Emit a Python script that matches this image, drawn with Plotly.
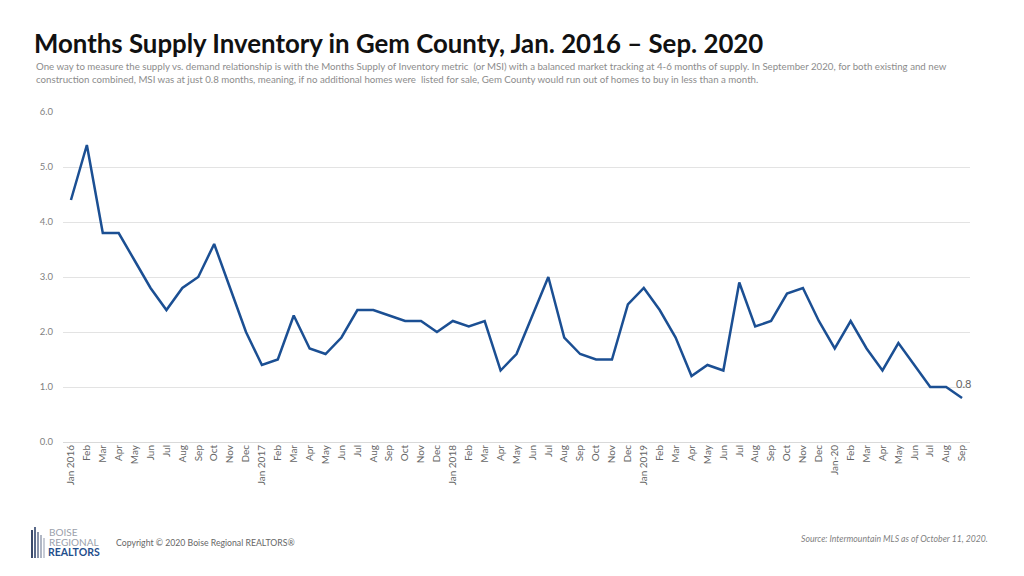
import plotly.graph_objects as go

months = ["Jan 2016", "Feb", "Mar", "Apr", "May", "Jun", "Jul", "Aug", "Sep", "Oct", "Nov", "Dec",
          "Jan 2017", "Feb", "Mar", "Apr", "May", "Jun", "Jul", "Aug", "Sep", "Oct", "Nov", "Dec",
          "Jan 2018", "Feb", "Mar", "Apr", "May", "Jun", "Jul", "Aug", "Sep", "Oct", "Nov", "Dec",
          "Jan 2019", "Feb", "Mar", "Apr", "May", "Jun", "Jul", "Aug", "Sep", "Oct", "Nov", "Dec",
          "Jan-20", "Feb", "Mar", "Apr", "May", "Jun", "Jul", "Aug", "Sep"]
msi = [4.4, 5.4, 3.8, 3.8, 3.3, 2.8, 2.4, 2.8, 3.0, 3.6, 2.8, 2.0,
       1.4, 1.5, 2.3, 1.7, 1.6, 1.9, 2.4, 2.4, 2.3, 2.2, 2.2, 2.0,
       2.2, 2.1, 2.2, 1.3, 1.6, 2.3, 3.0, 1.9, 1.6, 1.5, 1.5, 2.5,
       2.8, 2.4, 1.9, 1.2, 1.4, 1.3, 2.9, 2.1, 2.2, 2.7, 2.8, 2.2,
       1.7, 2.2, 1.7, 1.3, 1.8, 1.4, 1.0, 1.0, 0.8]
y_ticks = [0, 1, 2, 3, 4, 5, 6]

x = list(range(len(months)))

fig = go.Figure()
fig.add_trace(go.Scatter(x=x, y=msi, mode="lines",
                         line=dict(color="#1B4F93", width=2.5), hoverinfo="skip"))

fig.add_annotation(x=x[-1], y=msi[-1], text=f"{msi[-1]:.1f}", showarrow=False,
                   xanchor="center", yanchor="bottom", yshift=6, xshift=1,
                   font=dict(family="Lato", size=11, color="#666666"))

fig.update_layout(
    width=1024, height=576,
    margin=dict(l=63, r=54, t=112, b=134),
    paper_bgcolor="white", plot_bgcolor="white",
    showlegend=False,
    font=dict(family="Lato", color="#7f7f7f"),
    xaxis=dict(range=[-0.5, len(months) - 0.5], tickmode="array", tickvals=x, ticktext=months,
               tickangle=-90, tickfont=dict(size=10, color="#666666"), showgrid=False,
               zeroline=False, showline=False, ticks=""),
    yaxis=dict(range=[0, 6], tickmode="array", tickvals=y_ticks,
               ticktext=[f"{v:.1f}" for v in y_ticks],
               tickfont=dict(size=9.5, color="#7f7f7f"), gridcolor="#e3e3e3", gridwidth=1,
               zeroline=True, zerolinecolor="#d9d9d9", zerolinewidth=1, showline=False,
               ticks="", ticklabelstandoff=9),
)

def px(xp):
    return (xp - 63) / 907
def py(yp):
    return (442 - yp) / 330

fig.add_annotation(xref="paper", yref="paper", x=px(32), y=py(43), xanchor="left",
                   yanchor="middle", showarrow=False,
                   text="<b>Months Supply Inventory in Gem County, Jan. 2016 – Sep. 2020</b>",
                   font=dict(family="Lato", size=25.8, color="#111111"))
fig.add_annotation(xref="paper", yref="paper", x=px(34), y=py(72.5), xanchor="left",
                   yanchor="middle", showarrow=False, align="left",
                   text="One way to measure the supply vs. demand relationship is with the Months Supply of Inventory metric  (or MSI) with a balanced market tracking at 4-6 months of supply. In September 2020, for both existing and new<br>construction combined, MSI was at just 0.8 months, meaning, if no additional homes were  listed for sale, Gem County would run out of homes to buy in less than a month.",
                   font=dict(family="Lato", size=9.7, color="#8c8c8c"))

# footer logo
bars = [(31, 33, 530, "#3a4a6b"), (34, 36, 527, "#5a6a8a"), (37, 39, 532, "#8a94aa"),
        (40, 42, 535, "#b0b6c4"), (43, 45, 538, "#c8ccd6")]
for x0, x1, ytop, col in bars:
    fig.add_shape(type="rect", xref="paper", yref="paper", x0=px(x0), x1=px(x1),
                  y0=py(558), y1=py(ytop), fillcolor=col, line_width=0)

fig.add_annotation(xref="paper", yref="paper", x=px(47), y=py(532), xanchor="left", yanchor="middle",
                   showarrow=False, text="BOISE", font=dict(family="Lato", size=10, color="#9a9fab"))
fig.add_annotation(xref="paper", yref="paper", x=px(47), y=py(542), xanchor="left", yanchor="middle",
                   showarrow=False, text="REGIONAL", font=dict(family="Lato", size=10, color="#9a9fab"))
fig.add_annotation(xref="paper", yref="paper", x=px(46), y=py(552), xanchor="left", yanchor="middle",
                   showarrow=False, text="<b>REALTORS</b>", font=dict(family="Lato", size=10.5, color="#1F4E8C"))
fig.add_annotation(xref="paper", yref="paper", x=px(114), y=py(542), xanchor="left", yanchor="middle",
                   showarrow=False, text="Copyright © 2020 Boise Regional REALTORS®",
                   font=dict(family="Lato", size=8.7, color="#666666"))
fig.add_annotation(xref="paper", yref="paper", x=px(990), y=py(538), xanchor="right", yanchor="middle",
                   showarrow=False, text="<i>Source: Intermountain MLS as of October 11, 2020.</i>",
                   font=dict(family="Lato", size=8.7, color="#7f7f7f"))

fig.write_html("out.html", config={"displayModeBar": False},
               post_script="document.body.style.margin='0';document.body.style.overflow='hidden';")
